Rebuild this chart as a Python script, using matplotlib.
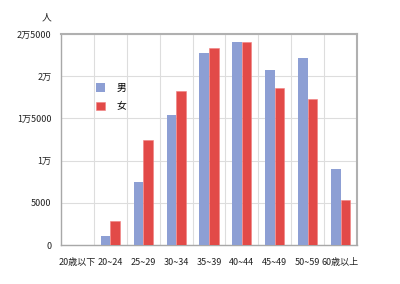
import numpy as np
import matplotlib
matplotlib.use("Agg")
import matplotlib.pyplot as plt
from matplotlib.ticker import FixedLocator

plt.rcParams["font.family"] = ["Noto Sans CJK JP", "DejaVu Sans"]

categories = ["20歳以下", "20~24", "25~29", "30~34", "35~39",
              "40~44", "45~49", "50~59", "60歳以上"]
male = [0, 1100, 7500, 15400, 22700, 24000, 20700, 22200, 9000]
female = [0, 2900, 12500, 18300, 23300, 24100, 18600, 17300, 5300]
yticks = [0, 5000, 10000, 15000, 20000, 25000]
ytick_labels = ["0", "5000", "1万", "1万5000", "2万", "2万5000"]

blue = "#8d9fd4"
red = "#e24a48"

fig = plt.figure(figsize=(4, 2.84), dpi=100)
ax = fig.add_axes([0.1525, 0.1373, 0.74, 0.743])

x = np.arange(len(categories))
w = 0.29
ax.bar(x - w / 2, male, w, color=blue, label="男", zorder=3)
ax.bar(x + w / 2, female, w, color=red, edgecolor="#f08080", linewidth=0.4,
       label="女", zorder=3)

ax.set_xlim(-0.5, len(categories) - 0.5)
ax.set_ylim(0, 25000)
ax.set_yticks(yticks)
ax.set_yticklabels(ytick_labels)
ax.set_xticks(x)
ax.set_xticklabels(categories)
ax.xaxis.set_minor_locator(FixedLocator(np.arange(0.5, len(categories) - 0.5, 1)))
ax.grid(axis="y", color="#dddddd", linewidth=0.8, zorder=0)
ax.grid(axis="x", which="minor", color="#dddddd", linewidth=0.8, zorder=0)
ax.tick_params(axis="both", which="both", length=0, labelsize=6.5, colors="#222222")
ax.tick_params(axis="y", pad=7)
ax.tick_params(axis="x", pad=9)

for s in ["left", "bottom"]:
    ax.spines[s].set_color("#a8a8a8")
    ax.spines[s].set_linewidth(1.0)
for s in ["top", "right"]:
    ax.spines[s].set_color("#b0b0b0")
    ax.spines[s].set_linewidth(1.5)

fig.text(0.117, 0.94, "人", fontsize=7, ha="center", va="center", color="#222222")

ax.legend(loc="upper left", bbox_to_anchor=(0.09, 0.81), frameon=False,
          fontsize=7, handlelength=0.9, handleheight=0.9, handletextpad=1.2,
          labelspacing=0.85)

fig.savefig("out.png", dpi=100)
